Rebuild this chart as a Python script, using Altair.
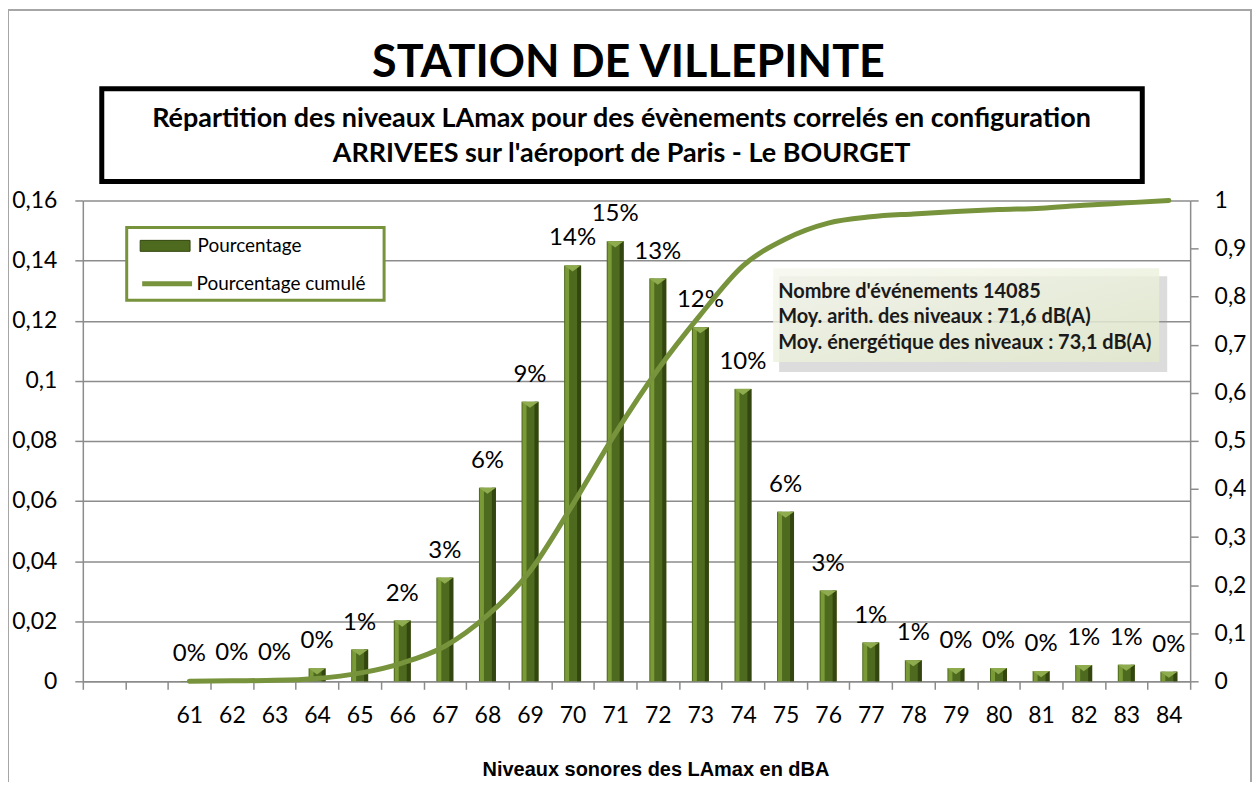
import altair as alt
import pandas as pd

# ---------------- data ----------------
levels = ["61", "62", "63", "64", "65", "66", "67", "68", "69", "70", "71", "72",
          "73", "74", "75", "76", "77", "78", "79", "80", "81", "82", "83", "84"]
pad_levels = [" ", "  "]  # two empty categories on the left of the axis
pct = [0.0001, 0.0003, 0.0005, 0.0043, 0.0106, 0.0202, 0.0345, 0.0644, 0.0930, 0.1384,
       0.1464, 0.1340, 0.1178, 0.0973, 0.0564, 0.0302, 0.0129, 0.0070, 0.0044, 0.0044,
       0.0034, 0.0054, 0.0055, 0.0032]
cum = [0.000, 0.001, 0.002, 0.006, 0.017, 0.038, 0.073, 0.137, 0.229, 0.367, 0.515, 0.648,
       0.762, 0.864, 0.920, 0.953, 0.966, 0.972, 0.977, 0.981, 0.984, 0.990, 0.995, 1.000]
series_names = ["Pourcentage", "Pourcentage cumulé"]
left_ticks = [0, 0.02, 0.04, 0.06, 0.08, 0.10, 0.12, 0.14, 0.16]
right_ticks = [0, 0.1, 0.2, 0.3, 0.4, 0.5, 0.6, 0.7, 0.8, 0.9, 1.0]
title_text = "STATION DE VILLEPINTE"
subtitle_lines = ["Répartition des niveaux LAmax pour des évènements correlés en configuration",
                  "ARRIVEES sur l'aéroport de Paris - Le BOURGET"]
info_lines = ["Nombre d'événements 14085",
              "Moy. arith. des niveaux : 71,6 dB(A)",
              "Moy. énergétique des niveaux : 73,1 dB(A)"]
x_title = "Niveaux sonores des LAmax en dBA"

df = pd.DataFrame({"level": levels, "pct": pct, "cum": cum})

# ---------------- styles ----------------
FONT = "Lato"
BAR = "#4E6A1E"
BAR_LIGHT = "#7A9A38"
BAR_DARK = "#33460F"
BAR_TOP = "#8EAB4E"
LINE = "#77933C"
AXIS_GREY = "#8C8C8C"
W, H = 1110, 482

x_scale = alt.Scale(domain=pad_levels + levels, paddingInner=0, paddingOuter=0)
x_axis = alt.Axis(title=x_title, tickBand="extent", grid=False, labelAngle=0,
                  labelFont=FONT, labelFontSize=23, labelColor="black", labelPadding=15,
                  tickSize=8, tickColor=AXIS_GREY, tickWidth=1.5,
                  domainColor=AXIS_GREY, domainWidth=1.5,
                  titleFont="Liberation Sans", titleFontSize=20, titleFontWeight="bold",
                  titleColor="black", titleX=574, titleY=88, titleBaseline="middle")
x_enc = alt.X("level:N", scale=x_scale, axis=x_axis, sort=None)
x_plain = alt.X("level:N", scale=x_scale, sort=None)

left_axis = alt.Axis(title=None, values=left_ticks,
                     labelExpr="replace(format(datum.value, '.2~f'), '.', ',')",
                     grid=True, gridColor=AXIS_GREY, gridWidth=1.5,
                     domainColor=AXIS_GREY, domainWidth=1.5,
                     tickColor=AXIS_GREY, tickWidth=1.5, tickSize=8,
                     labelFont=FONT, labelFontSize=23, labelColor="black", labelPadding=18)
right_axis = alt.Axis(title=None, orient="right", values=right_ticks,
                      labelExpr="replace(format(datum.value, '.1~f'), '.', ',')",
                      grid=False, domainColor=AXIS_GREY, domainWidth=1.5,
                      tickColor=AXIS_GREY, tickWidth=1.5, tickSize=8,
                      labelFont=FONT, labelFontSize=23, labelColor="black", labelPadding=16)

legend_common = dict(title=None, orient="none", direction="vertical", padding=0,
                     labelFont=FONT, labelFontSize=19, labelColor="black", labelLimit=400,
                     symbolSize=400, symbolOffset=15, legendX=57)
bar_legend = alt.Legend(legendY=35, symbolType="M-2.5,-0.55H2.5V0.55H-2.5Z",
                        symbolStrokeColor=BAR_DARK, symbolStrokeWidth=1,
                        symbolFillColor=BAR, labelOffset=22, **legend_common)
line_legend = alt.Legend(legendY=71, symbolType="M-2.5,0H2.5",
                         symbolStrokeWidth=5, labelOffset=17, **legend_common)

base = alt.Chart(df)

bars = base.transform_calculate(serie="'Pourcentage'").mark_bar(size=17).encode(
    x=x_enc,
    y=alt.Y("pct:Q", scale=alt.Scale(domain=[0, 0.16]), axis=left_axis),
    fill=alt.Fill("serie:N", scale=alt.Scale(domain=series_names[:1], range=[BAR]),
                  legend=bar_legend),
)
bar_light = base.mark_bar(size=4, xOffset=-5.5, color=BAR_LIGHT).encode(
    x=x_plain, y=alt.Y("pct:Q"))
bar_dark = base.mark_bar(size=4, xOffset=6.5, color=BAR_DARK).encode(
    x=x_plain, y=alt.Y("pct:Q"))
bar_top = base.transform_filter("datum.pct > 0.002").mark_point(
    shape="M-1,-0.36L1,-0.36L0,0.36Z", size=289, filled=True, opacity=1,
    color=BAR_TOP, yOffset=3).encode(x=x_plain, y=alt.Y("pct:Q"))
labels = base.mark_text(dy=-20, baseline="alphabetic", font=FONT, fontSize=24,
                        color="black").encode(
    x=x_plain, y=alt.Y("pct:Q"), text=alt.Text("pct:Q", format=".0%"))

left_group = alt.layer(bars, bar_light, bar_dark, bar_top, labels)

line = base.transform_calculate(serie2="'Pourcentage cumulé'").mark_line(
    interpolate="monotone", strokeWidth=5, strokeCap="round").encode(
    x=x_plain,
    y=alt.Y("cum:Q", scale=alt.Scale(domain=[0, 1]), axis=right_axis),
    stroke=alt.Stroke("serie2:N", scale=alt.Scale(domain=series_names[1:], range=[LINE]),
                      legend=line_legend),
)

one = alt.Data(values=[{"k": 1}])

frame = alt.Chart(one).mark_rect(filled=False, stroke="#A6A6A6", strokeWidth=2).encode(
    x=alt.value(-75), x2=alt.value(1171), y=alt.value(-191), y2=alt.value(640))

legend_box = alt.Chart(one).mark_rect(fill="white", stroke=LINE, strokeWidth=3).encode(
    x=alt.value(44), x2=alt.value(302), y=alt.value(27), y2=alt.value(100))

title = alt.Chart(one).mark_text(text=title_text, font=FONT, fontSize=45, fontWeight="bold",
                                 align="center", baseline="middle", color="black").encode(
    x=alt.value(547), y=alt.value(-138))

sub_box = alt.Chart(one).mark_rect(filled=False, stroke="black", strokeWidth=5).encode(
    x=alt.value(19), x2=alt.value(1062), y=alt.value(-112), y2=alt.value(-19))
sub_texts = [
    alt.Chart(one).mark_text(text=t, font=FONT, fontSize=27, fontWeight="bold",
                             align="center", baseline="middle", color="black").encode(
        x=alt.value(540), y=alt.value(yv))
    for t, yv in zip(subtitle_lines, [-82, -47])
]

shadow = alt.Chart(one).mark_rect(color="#9a9a9a", opacity=0.35).encode(
    x=alt.value(698), x2=alt.value(1087), y=alt.value(76), y2=alt.value(172))
info_box = alt.Chart(one).mark_rect(
    fill=alt.Gradient(gradient="linear", x1=0, y1=0, x2=1, y2=1,
                      stops=[alt.GradientStop(color="#F6F8EE", offset=0),
                             alt.GradientStop(color="#E2EACB", offset=1)]),
    fillOpacity=0.8).encode(
    x=alt.value(692), x2=alt.value(1079), y=alt.value(68), y2=alt.value(162))
info_texts = [
    alt.Chart(one).mark_text(text=t, font=FONT, fontSize=20, fontWeight="bold",
                             align="left", baseline="middle", color="#1A1A1A").encode(
        x=alt.value(697), y=alt.value(yv))
    for t, yv in zip(info_lines, [92, 117, 143])
]

chart = alt.layer(
    frame, left_group, line, legend_box, title, sub_box, *sub_texts, shadow, info_box,
    *info_texts
).resolve_scale(y="independent").properties(
    width=W, height=H,
    autosize=alt.AutoSizeParams(type="none"),
    padding={"left": 75, "top": 192, "right": 62, "bottom": 100},
).configure_view(stroke="transparent")

chart.save("out.html", embed_options={"renderer": "svg", "actions": False})
